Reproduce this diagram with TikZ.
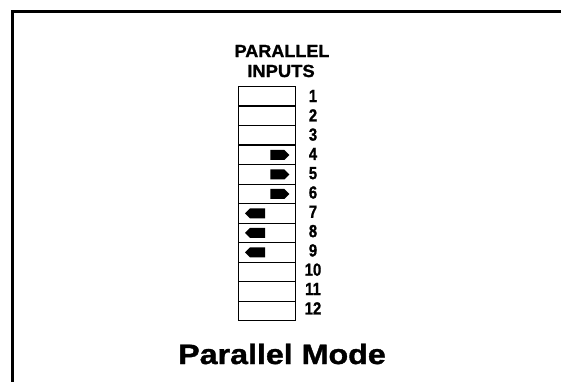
\documentclass[tikz,border=0pt]{standalone}
\usepackage{fontspec}
\setmainfont{Liberation Sans}
\newfontfamily\heavyfont{Liberation Sans}[BoldFeatures={FakeBold=1.2}]
\tikzset{
  rowbox/.style={draw, line width=1.4pt, minimum width=57pt, minimum height=19.5pt, inner sep=0pt, anchor=north west},
  numlabel/.style={font=\fontsize{17.5}{17.5}\heavyfont\bfseries, inner sep=0pt, xscale=0.85, transform shape},
  titletext/.style={font=\fontsize{17.5}{17.5}\heavyfont\bfseries, inner sep=0pt},
  marker/.style={fill=black, draw=none},
  frameline/.style={line width=3pt}
}
\begin{document}
\begin{tikzpicture}[x=1pt,y=-1pt]
\useasboundingbox (0,0) rectangle (561,382);
\fill[white] (0,0) rectangle (561,382);
% partial frame
\coordinate (fa) at (12,382);
\coordinate (fb) at (12,12);
\coordinate (fc) at (561,12);
\draw[frameline] (fa) -- (fb) -- (fc);
% title
\node[titletext, xscale=1.03, transform shape] (t1) at (282,51) {PARALLEL};
\node[titletext, xscale=1.05, transform shape] (t2) at (281,71) {INPUTS};
% rows
\foreach \i in {1,...,12} {
  \node[rowbox] (r\i) at (238,{86+(\i-1)*19.5}) {};
  \node[numlabel] (n\i) at (313,{96+(\i-1)*19.3}) {\i};
}
% right-pointing markers rows 4-6
\foreach \i in {4,5,6} {
  \fill[marker] ([xshift=-26pt,yshift=5pt]r\i.east) -- ([xshift=-12pt,yshift=5pt]r\i.east) -- ([xshift=-7pt]r\i.east) -- ([xshift=-12pt,yshift=-5pt]r\i.east) -- ([xshift=-26pt,yshift=-5pt]r\i.east) -- cycle;
}
% left-pointing markers rows 7-9
\foreach \i in {7,8,9} {
  \fill[marker] ([xshift=27pt,yshift=5pt]r\i.west) -- ([xshift=12pt,yshift=5pt]r\i.west) -- ([xshift=7pt]r\i.west) -- ([xshift=12pt,yshift=-5pt]r\i.west) -- ([xshift=27pt,yshift=-5pt]r\i.west) -- cycle;
}
% caption
\node[font=\fontsize{28}{28}\heavyfont\bfseries, inner sep=0pt, xscale=1.15, transform shape] (cap) at (282,354) {Parallel Mode};
\end{tikzpicture}
\end{document}
